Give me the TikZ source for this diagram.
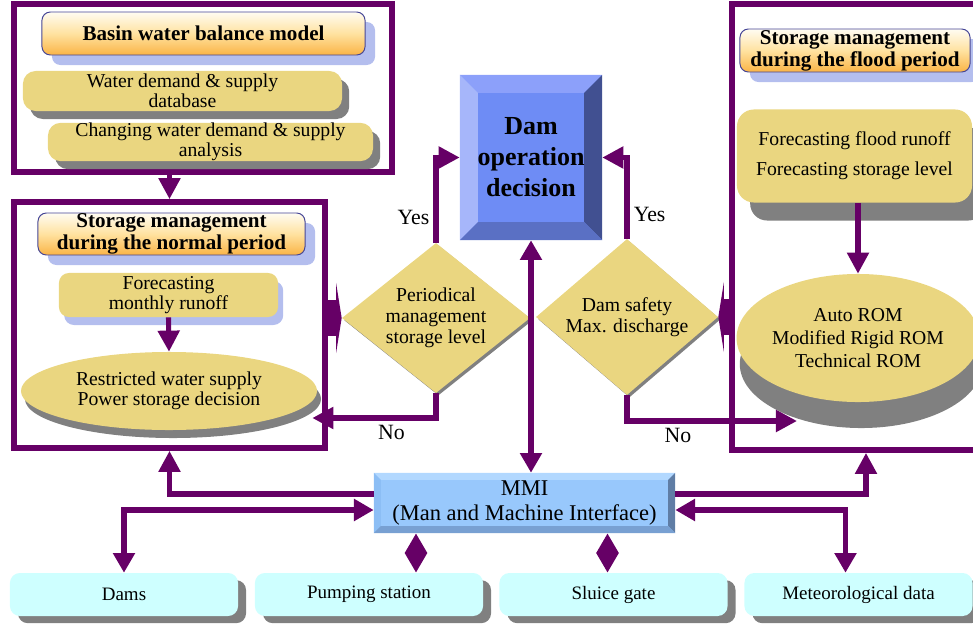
\documentclass[tikz,border=0pt]{standalone}
\usepackage{fontspec}
\setmainfont{Liberation Serif}
\usepackage{tikz}
\usetikzlibrary{arrows.meta,positioning,shapes.geometric,shadows}
\definecolor{plum}{RGB}{102,0,102}
\definecolor{sand}{RGB}{234,214,128}
\definecolor{shgray}{RGB}{128,128,128}
\definecolor{lavender}{RGB}{180,190,238}
\definecolor{hdtop}{RGB}{255,252,242}
\definecolor{hdmid}{RGB}{255,226,160}
\definecolor{hdorange}{RGB}{250,180,70}
\definecolor{hdline}{RGB}{70,70,150}
\definecolor{decface}{RGB}{110,140,245}
\definecolor{dectop}{RGB}{140,160,250}
\definecolor{decleft}{RGB}{166,182,250}
\definecolor{decright}{RGB}{65,80,145}
\definecolor{decbot}{RGB}{90,112,196}
\definecolor{mmiface}{RGB}{152,200,252}
\definecolor{mmitop}{RGB}{178,216,255}
\definecolor{mmileft}{RGB}{140,190,245}
\definecolor{mmiright}{RGB}{95,125,165}
\definecolor{mmibot}{RGB}{120,160,210}
\definecolor{cyanbox}{RGB}{206,255,255}

\begin{document}
\begin{tikzpicture}[x=0.025cm,y=-0.025cm,
  txt/.style={font=\fontsize{14}{14.5}\selectfont,align=center,inner sep=0pt},
  frame/.style={draw=plum,line width=4pt,inner sep=0pt},
  head/.style={draw=hdline,line width=0.7pt,rounded corners=6pt,
               top color=hdtop,bottom color=hdorange,middle color=hdmid,
               general shadow={fill=lavender,shadow xshift=0.25cm,shadow yshift=-0.25cm},
               align=center,inner sep=0pt,font=\bfseries\fontsize{15}{15.6}\selectfont},
  disc/.style={txt,fill=sand,rounded corners=9pt,
               general shadow={fill=shgray,shadow xshift=0.18cm,shadow yshift=-0.2cm}},
  card/.style={txt,fill=sand,rounded corners=7pt},
  oval/.style={txt,ellipse,fill=sand},
  choice/.style={txt,diamond,aspect=1.25,fill=sand,font=\fontsize{14}{15}\selectfont,
                 general shadow={fill=shgray,shadow xshift=0.06cm,shadow yshift=-0.06cm}},
  unit/.style={fill=cyanbox,rounded corners=7pt,inner sep=0pt,
               minimum width=5.7cm,minimum height=1.075cm,
               font=\fontsize{13.5}{14}\selectfont,
               general shadow={fill=shgray,shadow xshift=0.2cm,shadow yshift=-0.18cm}},
  bevel/.style n args={5}{path picture={
      \coordinate (bnw) at (path picture bounding box.north west);
      \coordinate (bne) at (path picture bounding box.north east);
      \coordinate (bsw) at (path picture bounding box.south west);
      \coordinate (bse) at (path picture bounding box.south east);
      \fill[#2] (bnw) -- (bne) -- ++(-#1,-#1) -- ([shift={(#1,-#1)}]bnw) -- cycle;
      \fill[#3] (bnw) -- ([shift={(#1,-#1)}]bnw) -- ([shift={(#1,#1)}]bsw) -- (bsw) -- cycle;
      \fill[#4] (bne) -- ([shift={(-#1,-#1)}]bne) -- ([shift={(-#1,#1)}]bse) -- (bse) -- cycle;
      \fill[#5] (bsw) -- ([shift={(#1,#1)}]bsw) -- ([shift={(-#1,#1)}]bse) -- (bse) -- cycle;}},
  ar/.style={-{Triangle[length=15pt,width=15pt]},line width=3.6pt,draw=plum},
  ar2/.style={{Triangle[length=14pt,width=15pt]}-{Triangle[length=14pt,width=15pt]},
              line width=3.6pt,draw=plum},
  ear/.style={-{Triangle[length=4pt,width=50pt,line width=0pt]},line width=26pt,draw=plum},
  yn/.style={font=\fontsize{15.5}{16}\selectfont,inner sep=3pt}]

\useasboundingbox (0,0) rectangle (973,624);
\clip (0,0) rectangle (973,624);

% frames
\node[frame,minimum width=9.45cm,minimum height=4.2cm] (frBasin) at (203,88) {};
\node[frame,minimum width=7.775cm,minimum height=6.15cm] (frNorm) at (169.5,325) {};
\node[frame,minimum width=6.7cm,minimum height=11.15cm] (frFlood) at (866,227) {};

% basin water balance
\node[head,minimum width=8.075cm,minimum height=1.075cm] (hBasin) at (203.5,33.5)
  {Basin water balance model};
\node[disc,minimum width=7.975cm,minimum height=1cm] (dbBasin) at (182.5,91)
  {Water demand \& supply\\database};
\node[disc,minimum width=8.125cm,minimum height=0.95cm] (anBasin) at (210.5,142)
  {Changing water demand \& supply\\analysis};

% normal period
\node[head,minimum width=6.675cm,minimum height=1.05cm] (hNorm) at (171.5,234)
  {Storage management\\during the normal period};
\node[card,minimum width=5.475cm,minimum height=1.1cm,
      general shadow={fill=lavender,shadow xshift=0.13cm,shadow yshift=-0.2cm}] (fcMonth) at (168.5,295)
  {Forecasting\\monthly runoff};
\node[oval,minimum width=7.4cm,minimum height=1.95cm,
      general shadow={fill=shgray,shadow xshift=0.1cm,shadow yshift=-0.2cm}] (elNorm) at (169,391)
  {Restricted water supply\\Power storage decision};

% flood period
\node[head,minimum width=5.75cm,minimum height=1.075cm] (hFlood) at (855,50.5)
  {Storage management\\during the flood period};
\node[card,rounded corners=12pt,minimum width=5.875cm,minimum height=2.325cm,
      general shadow={fill=shgray,shadow xshift=0.33cm,shadow yshift=-0.45cm}] (fcFlood) at (854.5,156)
  {Forecasting flood runoff\\[7pt]Forecasting storage level};
\node[oval,minimum width=5.75cm,minimum height=3.2cm,
      general shadow={fill=shgray,shadow xshift=0.08cm,shadow yshift=-0.65cm}] (elRom) at (858,338)
  {Auto ROM\\[2pt]Modified Rigid ROM\\[2pt]Technical ROM};

% decision and checks
\node[txt,fill=decface,bevel={0.45cm}{dectop}{decleft}{decright}{decbot},
      minimum width=3.55cm,minimum height=4.125cm,
      font=\bfseries\fontsize{18.5}{22}\selectfont] (dec) at (531,157.5)
  {Dam\\operation\\decision};
\node[choice,minimum width=4.7cm,minimum height=3.75cm] (dia1) at (436,318)
  {Periodical\\management\\storage level};
\node[choice,minimum width=4.55cm,minimum height=3.9cm] (dia2) at (627,317)
  {Dam safety\\Max. discharge};

% interface and field units
\node[txt,fill=mmiface,bevel={0.175cm}{mmitop}{mmileft}{mmiright}{mmibot},
      minimum width=7.525cm,minimum height=1.5cm,
      font=\fontsize{16}{17.8}\selectfont] (mmi) at (524.5,503)
  {MMI\\(Man and Machine Interface)};
\node[unit] (dams) at (124,594.5) {Dams};
\node[unit] (pump) at (369,594.5) {Pumping station};
\node[unit] (sluice) at (613.5,594.5) {Sluice gate};
\node[unit] (met) at (858.5,594.5) {Meteorological data};

% connectors
\draw[ar] (frNorm.north |- frBasin.south) -- (frNorm.north);
\draw[ar] (fcMonth.south) -- (elNorm.north);
\draw[ar] (elRom.north |- fcFlood.south) -- (elRom.north);
\draw[ar] (dia1.north) |- node[yn,pos=0.15,left]{Yes} (dec.west);
\draw[ar] (dia2.north) |- node[yn,pos=0.15,right]{Yes} (dec.east);
\draw[ar] (dia1.south) |- node[yn,pos=0.68,below]{No} ([shift={(-5,27)}]elNorm.east);
\draw[ar] (dia2.south) |- node[yn,pos=0.65,below]{No} ([shift={(-61,83)}]elRom.center);
\draw[ar2] (dec.south) -- (dec.south |- mmi.north);
\draw[ar] ([shift={(0,-9)}]mmi.west) -| (frNorm.south);
\draw[ar] ([shift={(0,-9)}]mmi.east) -| (frFlood.south);
\draw[ar2] (dams.north) |- ([shift={(0,7)}]mmi.west);
\coordinate (metUp) at ([shift={(-13,0)}]met.north);
\draw[ar2] (metUp) |- ([shift={(0,7)}]mmi.east);
\coordinate (pumpUp) at ([shift={(47,0)}]pump.north);
\coordinate (sluiceUp) at ([shift={(-6,0)}]sluice.north);
\draw[ar2] (pumpUp) -- (pumpUp |- mmi.south);
\draw[ar2] (sluiceUp) -- (sluiceUp |- mmi.south);
\draw[ear] (frNorm.east |- dia1.west) -- (dia1.west);
\draw[ear] (frFlood.west |- dia2.east) -- (dia2.east);
\end{tikzpicture}
\end{document}
